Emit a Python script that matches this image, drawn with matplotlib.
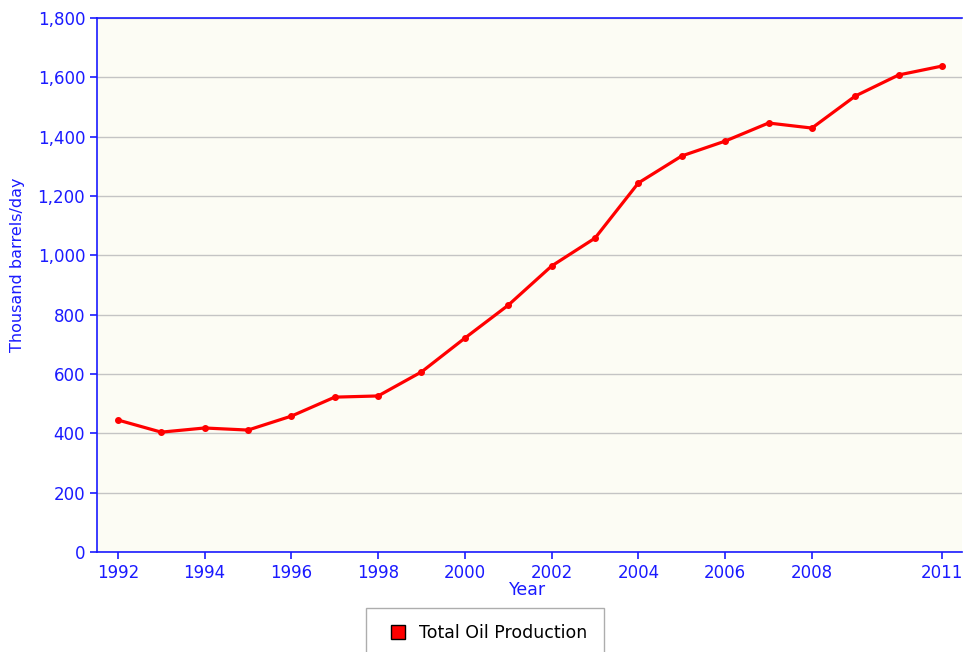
import matplotlib.pyplot as plt
from matplotlib.ticker import FuncFormatter

plt.rcParams['font.family'] = ['DejaVu Sans']

# Total oil production, thousand barrels/day
years = [1992, 1993, 1994, 1995, 1996, 1997, 1998, 1999, 2000, 2001,
         2002, 2003, 2004, 2005, 2006, 2007, 2008, 2009, 2010, 2011]
production = [445, 404, 418, 411, 458, 522, 526, 607, 721, 832,
              964, 1058, 1244, 1335, 1385, 1446, 1429, 1537, 1608, 1638]
xticks = [1992, 1994, 1996, 1998, 2000, 2002, 2004, 2006, 2008, 2011]
series_name = 'Total Oil Production'

blue = '#1a1aff'

fig = plt.figure(figsize=(9.64, 6.52), dpi=100)
ax = fig.add_axes([97 / 964, 100 / 652, 865 / 964, 534 / 652])
ax.set_facecolor('#fcfcf4')

ax.plot(years, production, color='#ff0000', lw=2.3, marker='o', ms=4,
        label=series_name, zorder=3)

ax.set_xlim(1991.52, 2011.46)
ax.set_ylim(0, 1800)
ax.set_xticks(xticks)
ax.set_yticks(range(0, 1801, 200))
ax.yaxis.set_major_formatter(FuncFormatter(lambda v, p: f'{int(v):,}'))
ax.grid(axis='y', color='#c4c4c4', lw=1)
ax.set_axisbelow(True)

for side in ['left', 'bottom', 'top']:
    ax.spines[side].set_color(blue)
    ax.spines[side].set_linewidth(1.2)
ax.spines['right'].set_visible(False)
ax.tick_params(colors=blue, labelsize=12, length=5, width=1.2)
ax.tick_params(axis='x', pad=4)

# axis titles placed by hand to match the original layout
fig.text(528 / 964, 1 - 590 / 652, 'Year', color=blue, fontsize=12.5,
         ha='center', va='center')
fig.text(18 / 964, 1 - 265 / 652, 'Thousand barrels/day', color=blue,
         fontsize=11.5, rotation=90, ha='center', va='center')

handle = plt.Line2D([], [], ls='none', marker='s', ms=10,
                    markerfacecolor='#ff0000', markeredgecolor='black')
fig.legend([handle], [series_name], loc='upper center',
           bbox_to_anchor=(485 / 964, 1 - 608 / 652), fontsize=12.5,
           frameon=True, fancybox=False, edgecolor='#999999',
           borderpad=0.95, handletextpad=0.3, borderaxespad=0,
           handlelength=1.8)

fig.savefig('out.png', dpi=100)
